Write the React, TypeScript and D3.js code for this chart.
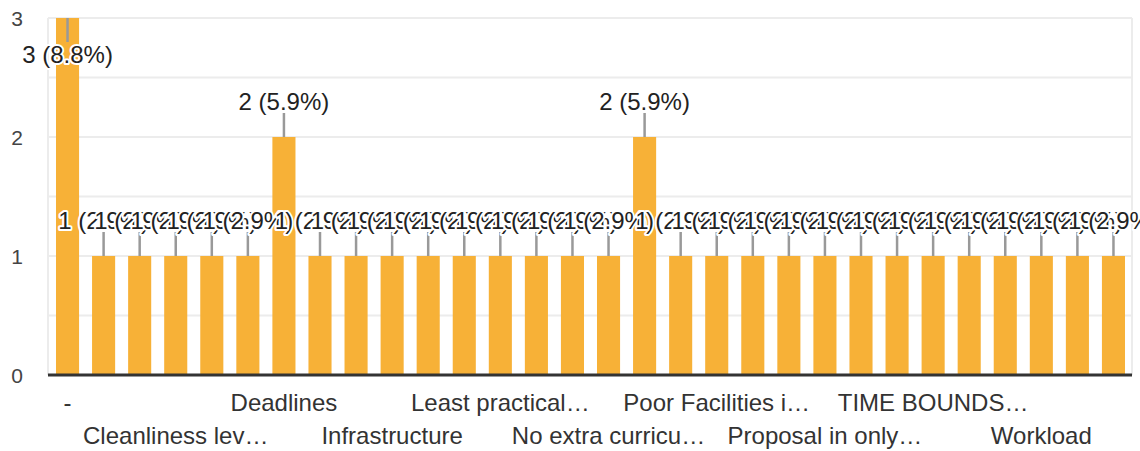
import React, { useEffect, useRef } from 'react';
import * as d3 from 'd3';

// categories in the order the form lists them (only every third one gets an axis label)
const categories = [
  '-', 'Attendance', 'Canteen food', 'Cleanliness lev…', 'Communication', 'Curriculum',
  'Deadlines', 'Exams', 'Faculty', 'Infrastructure', 'Internet', 'Lab equipment',
  'Least practical…', 'Library', 'Management', 'No extra curricu…', 'Parking', 'Placements',
  'Poor Facilities i…', 'Poor teaching', 'Projects', 'Proposal in only…', 'Syllabus', 'Teaching methods',
  'TIME BOUNDS…', 'Too many assignments', 'Transport', 'Workload', 'Xerox facility', 'Zero hours',
];
const counts = [
  3, 1, 1, 1, 1, 1,
  2, 1, 1, 1, 1, 1,
  1, 1, 1, 1, 2, 1,
  1, 1, 1, 1, 1, 1,
  1, 1, 1, 1, 1, 1,
];
const yTicks = [0, 1, 2, 3];

const W = 1140;
const H = 451;
const FONT = '"Liberation Sans", Arial, sans-serif';

export default function App() {
  const svgRef = useRef<SVGSVGElement>(null);

  useEffect(() => {
    document.body.style.margin = '0';
    if (!svgRef.current) return;
    const svg = d3.select(svgRef.current);
    svg.selectAll('*').remove();

    const left = 48;
    const right = 1132;
    const total = d3.sum(counts);

    const x = d3.scaleBand<string>()
      .domain(categories)
      .range([49.5, 1131.5])
      .paddingInner(0.36)
      .paddingOuter(0.18);

    const y = d3.scaleLinear().domain([0, 3]).range([375, 18]);

    // gridlines every half step
    const grid = svg.append('g');
    grid.selectAll('line.h')
      .data(d3.range(0.5, 3.01, 0.5))
      .join('line')
      .attr('x1', left).attr('x2', right)
      .attr('y1', d => y(d)).attr('y2', d => y(d))
      .attr('stroke', '#ececec').attr('stroke-width', 2);
    [left, right].forEach(xx => {
      grid.append('line')
        .attr('x1', xx).attr('x2', xx)
        .attr('y1', y(3)).attr('y2', y(0))
        .attr('stroke', '#ececec').attr('stroke-width', 2);
    });

    // y tick labels
    svg.append('g').selectAll('text')
      .data(yTicks)
      .join('text')
      .attr('x', 23)
      .attr('y', d => y(d))
      .attr('dy', '0.36em')
      .attr('text-anchor', 'end')
      .attr('font-family', FONT)
      .attr('font-size', 21)
      .attr('fill', '#444')
      .text(d => d);

    // bars
    svg.append('g').selectAll('rect')
      .data(categories)
      .join('rect')
      .attr('x', d => x(d)!)
      .attr('width', x.bandwidth())
      .attr('y', (_, i) => y(counts[i]))
      .attr('height', (_, i) => y(0) - y(counts[i]))
      .attr('fill', '#f7b137');

    // baseline
    svg.append('line')
      .attr('x1', left).attr('x2', right)
      .attr('y1', y(0)).attr('y2', y(0))
      .attr('stroke', '#333').attr('stroke-width', 3);

    // annotations: stem + "n (p%)" label; inside the bar when it hits the top
    const stemLen = 24;
    const ann = svg.append('g');
    categories.forEach((c, i) => {
      const v = counts[i];
      const cx = x(c)! + x.bandwidth() / 2;
      const top = y(v);
      const inside = top - stemLen - 24 < 0;
      const stemEnd = inside ? top + stemLen : top - stemLen;
      ann.append('line')
        .attr('x1', cx).attr('x2', cx)
        .attr('y1', top).attr('y2', stemEnd)
        .attr('stroke', '#999').attr('stroke-width', 2.5);
    });
    categories.forEach((c, i) => {
      const v = counts[i];
      const cx = x(c)! + x.bandwidth() / 2;
      const top = y(v);
      const inside = top - stemLen - 24 < 0;
      const pct = d3.format('.1f')((v / total) * 100);
      ann.append('text')
        .attr('x', cx)
        .attr('y', inside ? top + 45 : top - 27)
        .attr('text-anchor', 'middle')
        .attr('font-family', FONT)
        .attr('font-size', 24)
        .attr('fill', '#222')
        .attr('stroke', '#fff')
        .attr('stroke-width', 4)
        .attr('stroke-linejoin', 'round')
        .attr('paint-order', 'stroke')
        .text(`${v} (${pct}%)`);
    });

    // x labels: every third category, alternating two rows
    svg.append('g').selectAll('text')
      .data(categories.filter((_, i) => i % 3 === 0))
      .join('text')
      .attr('x', d => x(d)! + x.bandwidth() / 2)
      .attr('y', (_, k) => (k % 2 === 0 ? 411 : 444))
      .attr('text-anchor', 'middle')
      .attr('font-family', FONT)
      .attr('font-size', 24)
      .attr('fill', '#333')
      .text(d => d);
  }, []);

  return <svg ref={svgRef} width={W} height={H} style={{ display: 'block' }} />;
}
